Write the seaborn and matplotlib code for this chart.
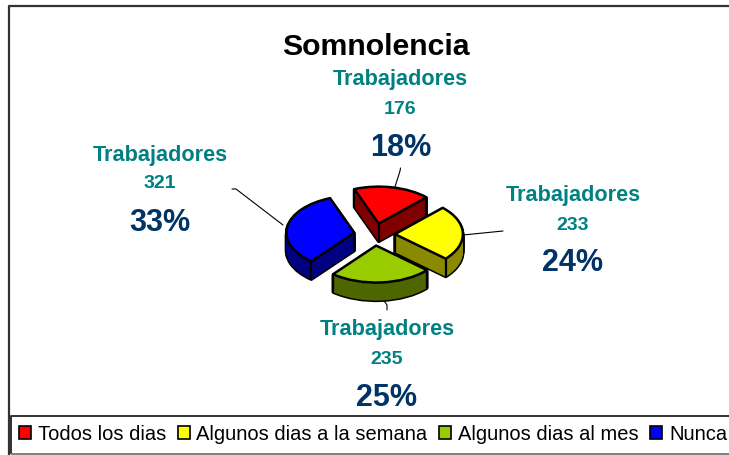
import matplotlib
matplotlib.use("Agg")
import matplotlib.pyplot as plt
from matplotlib.patches import Patch
import numpy as np
import seaborn as sns

categories = ["Todos los dias", "Algunos dias a la semana", "Algunos dias al mes", "Nunca"]
workers = [176, 233, 235, 321]
percents = ["18%", "24%", "25%", "33%"]
series_label = "Trabajadores"
title = "Somnolencia"
top_colors = ["#ff0000", "#ffff00", "#99cc00", "#0000ff"]
side_colors = ["#800000", "#8a8a00", "#4d6600", "#000080"]

sns.set_theme(style="white")
plt.rcParams["font.family"] = ["Liberation Sans", "DejaVu Sans"]

W, H = 729, 455
fig = plt.figure(figsize=(W / 100, H / 100), dpi=100, facecolor="white")

# overlay in pixel coordinates for frame, text, leaders
ov = fig.add_axes([0, 0, 1, 1], zorder=1)
ov.set_xlim(0, W)
ov.set_ylim(H, 0)
ov.axis("off")

ov.plot([9, 9, W], [H, 5.5, 5.5], color="#333333", lw=1.6, solid_capstyle="butt", zorder=10)
ov.text(376, 47, title, fontsize=21.8, fontweight="bold", color="black", ha="center", va="center")

label_pos = [(400.5, (79, 109, 148)), (573, (195, 225, 263)), (387, (329, 359, 398)), (160, (155, 184, 223))]
for (x, ys), n, pct in zip(label_pos, workers, percents):
    ov.text(x, ys[0], series_label, fontsize=15.6, fontweight="bold", color="#008080", ha="center", va="center")
    ov.text(x, ys[1], str(n), fontsize=14, fontweight="bold", color="#008080", ha="center", va="center")
    ov.text(x, ys[2], pct, fontsize=22, fontweight="bold", color="#003366", ha="center", va="center")

leaders = [
    ([394, 400, 400.5], [190, 171, 168]),
    ([463, 503], [235, 231]),
    ([382, 387, 387], [298, 305, 310]),
    ([283, 236, 232], [225, 189, 189]),
]
for xs, ys in leaders:
    ov.plot(xs, ys, color="black", lw=0.8)

# pie axes: one unit is 68 px wide and 37 px high
cx, cy, rx, ry = 374.5, 234.5, 68, 37
ux, uy = 2.4, 3.0
ax = fig.add_axes([(cx - ux * rx) / W, 1 - (cy + uy * ry) / H, 2 * ux * rx / W, 2 * uy * ry / H], zorder=2)
ax.patch.set_visible(False)

explode = [0.3, 0.3, 0.3, 0.3]
start = 111
depth = 18 / ry
paint_base = [10, 30, 40, 20]
layers = np.linspace(depth, 0, 19)[:-1]


def layer(offset, colors, lw, edge, z):
    wedges, _ = ax.pie(workers, explode=explode, colors=colors, startangle=start, counterclock=False,
                       center=(0, -offset), wedgeprops=dict(linewidth=lw, edgecolor=edge, joinstyle="round"))
    for w, b in zip(wedges, paint_base):
        w.set_zorder(b + z)
        w.set_clip_on(False)
    return wedges


for d in layers:
    layer(d, side_colors, 2.2, "black", 1)
for d in layers:
    layer(d, side_colors, 0, "none", 2)
tops = layer(0, top_colors, 1.8, "black", 4)

for w, b in zip(tops, paint_base):
    c = np.array(w.center)
    corners = [c]
    for t in (w.theta1, w.theta2):
        corners.append(c + w.r * np.array([np.cos(np.radians(t)), np.sin(np.radians(t))]))
    for p in corners:
        ax.plot([p[0], p[0]], [p[1], p[1] - depth], color="black", lw=1.6, zorder=b + 3, clip_on=False)

ax.set_aspect("auto")
ax.set_xlim(-ux, ux)
ax.set_ylim(-uy, uy)
ax.axis("off")

handles = [Patch(facecolor=c, edgecolor="black", linewidth=1.2) for c in top_colors]
leg = ov.legend(handles, categories, ncol=4, loc="lower left", bbox_to_anchor=(8.5 / W, 1 / H),
                bbox_transform=fig.transFigure, borderaxespad=0, fontsize=14.5, frameon=False,
                handlelength=0.6, handleheight=0.6, handletextpad=0.33,
                columnspacing=0.58, borderpad=0.52, labelspacing=0, labelcolor="black")
ov.plot([W, 11, 11], [415.5, 415.5, 454], color="#222222", lw=1.3, solid_capstyle="butt", zorder=10)
ov.plot([11, W], [454, 454], color="#808080", lw=1.4, solid_capstyle="butt", zorder=10)

fig.savefig("out.png", dpi=100, facecolor="white")
